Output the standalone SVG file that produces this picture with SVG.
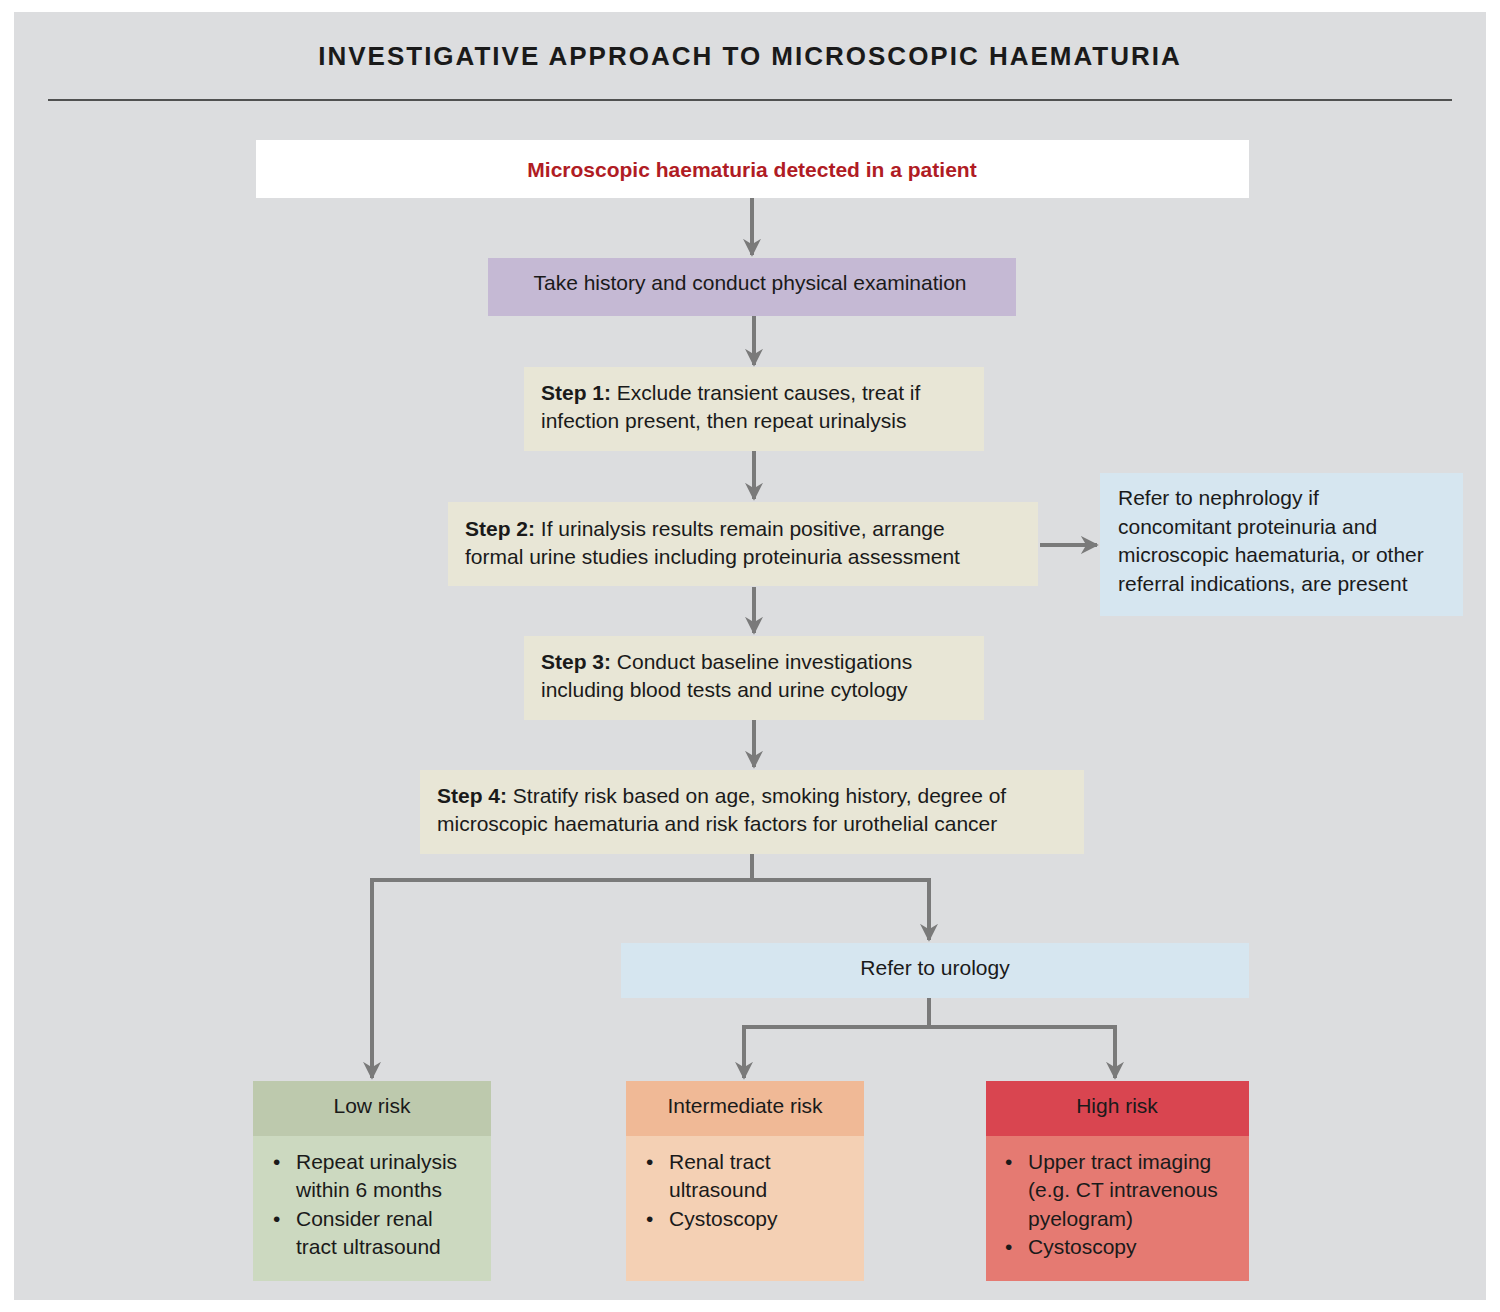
<svg xmlns="http://www.w3.org/2000/svg" width="1500" height="1312" viewBox="0 0 1500 1312">
<style>
text{font-family:"Liberation Sans",Arial,sans-serif;font-size:21px;fill:#1a1a1a}
.b{font-weight:bold}
.c{text-anchor:middle}
.con{stroke:#7a7a7a;stroke-width:4;fill:none}
</style>
<defs><marker id="ah" viewBox="0 0 10 10" refX="9" refY="5" markerWidth="4.5" markerHeight="4.5" orient="auto" markerUnits="strokeWidth"><path d="M0,0 L10,5 L0,10 L3,5 z" fill="#7a7a7a"/></marker></defs>
<rect width="1500" height="1312" fill="#fff"/>
<rect x="14" y="12" width="1472" height="1288" fill="#dcdddf"/>
<text x="750" y="65" class="b c" style="font-size:26px;letter-spacing:2px">INVESTIGATIVE APPROACH TO MICROSCOPIC HAEMATURIA</text>
<line x1="48" y1="100" x2="1452" y2="100" stroke="#222" stroke-width="1.5"/>
<g id="connectors" class="con">
<line x1="752" y1="198" x2="752" y2="255" marker-end="url(#ah)"/>
<line x1="754" y1="316" x2="754" y2="365" marker-end="url(#ah)"/>
<line x1="754" y1="451" x2="754" y2="499" marker-end="url(#ah)"/>
<line x1="1040" y1="545" x2="1097" y2="545" marker-end="url(#ah)"/>
<line x1="754" y1="587" x2="754" y2="633" marker-end="url(#ah)"/>
<line x1="754" y1="720" x2="754" y2="767" marker-end="url(#ah)"/>
<polyline points="752,854 752,880 372,880 372,1078" marker-end="url(#ah)"/>
<polyline points="752,880 929,880 929,940" marker-end="url(#ah)"/>
<polyline points="929,998 929,1027 744,1027 744,1078" marker-end="url(#ah)"/>
<polyline points="929,1027 1115,1027 1115,1078" marker-end="url(#ah)"/>
</g>
<g id="start"><rect x="256" y="140" width="993" height="58" fill="#fff"/><text x="752" y="177" class="b c" style="fill:#b01c24">Microscopic haematuria detected in a patient</text></g>
<g id="history"><rect x="488" y="258" width="528" height="58" fill="#c5b9d4"/><text x="750" y="290" class="c" style="font-weight:500">Take history and conduct physical examination</text></g>
<g id="step1"><rect x="524" y="367" width="460" height="84" fill="#e8e6d6"/><text x="541" y="400"><tspan class="b">Step 1:</tspan> Exclude transient causes, treat if</text><text x="541" y="428">infection present, then repeat urinalysis</text></g>
<g id="step2"><rect x="448" y="502" width="590" height="84" fill="#e8e6d6"/><text x="465" y="536"><tspan class="b">Step 2:</tspan> If urinalysis results remain positive, arrange</text><text x="465" y="564">formal urine studies including proteinuria assessment</text></g>
<g id="nephro"><rect x="1100" y="473" width="363" height="143" fill="#d6e6f0"/><text x="1118" y="505">Refer to nephrology if</text><text x="1118" y="534">concomitant proteinuria and</text><text x="1118" y="562">microscopic haematuria, or other</text><text x="1118" y="591">referral indications, are present</text></g>
<g id="step3"><rect x="524" y="636" width="460" height="84" fill="#e8e6d6"/><text x="541" y="669"><tspan class="b">Step 3:</tspan> Conduct baseline investigations</text><text x="541" y="697">including blood tests and urine cytology</text></g>
<g id="step4"><rect x="420" y="770" width="664" height="84" fill="#e8e6d6"/><text x="437" y="803"><tspan class="b">Step 4:</tspan> Stratify risk based on age, smoking history, degree of</text><text x="437" y="831">microscopic haematuria and risk factors for urothelial cancer</text></g>
<g id="urology"><rect x="621" y="943" width="628" height="55" fill="#d6e6f0"/><text x="935" y="975" class="c" style="font-weight:500">Refer to urology</text></g>
<g id="low"><rect x="253" y="1081" width="238" height="55" fill="#bdc9ad"/><rect x="253" y="1136" width="238" height="145" fill="#ccd9c0"/><text x="372" y="1113" class="c">Low risk</text>
<text x="273" y="1169">•</text><text x="296" y="1169">Repeat urinalysis</text><text x="296" y="1197">within 6 months</text><text x="273" y="1226">•</text><text x="296" y="1226">Consider renal</text><text x="296" y="1254">tract ultrasound</text></g>
<g id="inter"><rect x="626" y="1081" width="238" height="55" fill="#f0b996"/><rect x="626" y="1136" width="238" height="145" fill="#f4d0b4"/><text x="745" y="1113" class="c">Intermediate risk</text>
<text x="646" y="1169">•</text><text x="669" y="1169">Renal tract</text><text x="669" y="1197">ultrasound</text><text x="646" y="1226">•</text><text x="669" y="1226">Cystoscopy</text></g>
<g id="high"><rect x="986" y="1081" width="263" height="55" fill="#d94550"/><rect x="986" y="1136" width="263" height="145" fill="#e57a72"/><text x="1117" y="1113" class="c">High risk</text>
<text x="1005" y="1169">•</text><text x="1028" y="1169">Upper tract imaging</text><text x="1028" y="1197">(e.g. CT intravenous</text><text x="1028" y="1226">pyelogram)</text><text x="1005" y="1254">•</text><text x="1028" y="1254">Cystoscopy</text></g>
</svg>
